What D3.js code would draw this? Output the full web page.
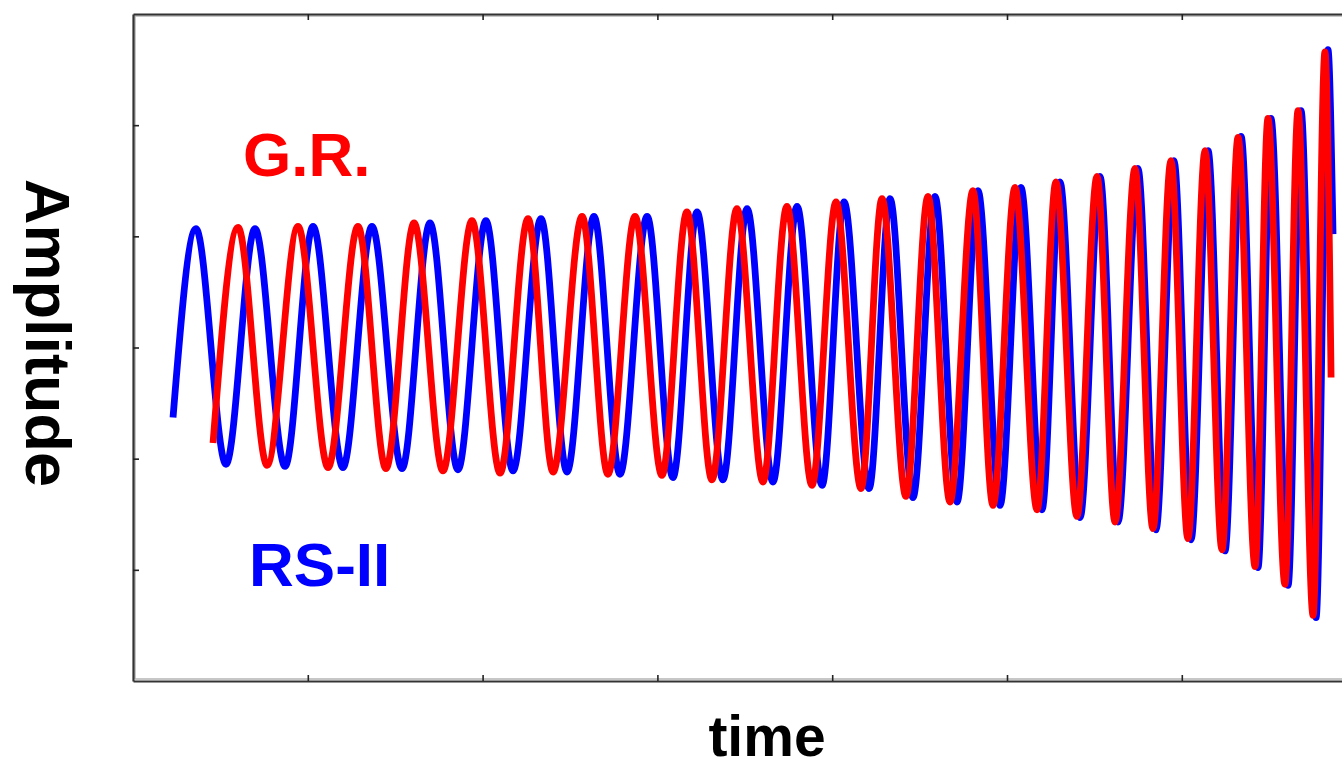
<!DOCTYPE html>
<html>
<head>
<meta charset="utf-8">
<script src="https://cdn.jsdelivr.net/npm/d3@7"></script>
<style>
  html, body { margin: 0; padding: 0; background: #fff; }
  svg { display: block; }
  text { font-family: "Liberation Sans", Arial, Helvetica, sans-serif; font-weight: bold; }
</style>
</head>
<body>
<svg id="chart" width="1342" height="769"></svg>
<script>
// Tick positions (no numeric labels are printed)
const timeTicks = [1, 2, 3, 4, 5, 6];
const ampTicks = [-2, -1, 0, 1, 2];

// RS-II waveform: start, alternating maxima/minima, end
const rsTime = [0.229,
  0.360, 0.532, 0.698, 0.870, 1.030, 1.201, 1.367, 1.539, 1.699, 1.859,
  2.019, 2.174, 2.334, 2.483, 2.637, 2.786, 2.941, 3.089, 3.227, 3.375,
  3.513, 3.661, 3.799, 3.942, 4.068, 4.211, 4.331, 4.462, 4.588, 4.714,
  4.834, 4.960, 5.080, 5.200, 5.303, 5.418, 5.532, 5.635, 5.749, 5.852,
  5.955, 6.053, 6.150, 6.247, 6.339, 6.436, 6.510, 6.608, 6.682, 6.768,
  6.836, 6.865];
const rsAmp = [-0.63,
  1.07, -1.05, 1.07, -1.07, 1.09, -1.08, 1.09, -1.09, 1.12, -1.10,
  1.14, -1.11, 1.16, -1.12, 1.18, -1.14, 1.18, -1.17, 1.22, -1.19,
  1.25, -1.21, 1.27, -1.24, 1.31, -1.27, 1.34, -1.35, 1.36, -1.39,
  1.41, -1.42, 1.44, -1.46, 1.49, -1.53, 1.54, -1.57, 1.61, -1.64,
  1.68, -1.73, 1.77, -1.83, 1.90, -1.98, 2.06, -2.14, 2.13, -2.43,
  2.68, 1.02];

// G.R. waveform: start, alternating maxima/minima, end
const grTime = [0.458,
  0.601, 0.767, 0.944, 1.116, 1.287, 1.447, 1.608, 1.773, 1.939, 2.100,
  2.260, 2.403, 2.569, 2.717, 2.872, 3.026, 3.169, 3.312, 3.455, 3.604,
  3.741, 3.884, 4.022, 4.165, 4.285, 4.422, 4.548, 4.674, 4.805, 4.920,
  5.046, 5.172, 5.280, 5.400, 5.515, 5.618, 5.732, 5.835, 5.938, 6.035,
  6.133, 6.230, 6.322, 6.419, 6.493, 6.590, 6.665, 6.751, 6.819, 6.854];
const grAmp = [-0.86,
  1.08, -1.06, 1.09, -1.08, 1.09, -1.09, 1.12, -1.11, 1.14, -1.13,
  1.16, -1.12, 1.18, -1.14, 1.18, -1.15, 1.22, -1.19, 1.25, -1.21,
  1.27, -1.24, 1.31, -1.27, 1.34, -1.34, 1.36, -1.39, 1.41, -1.42,
  1.44, -1.46, 1.49, -1.52, 1.54, -1.57, 1.61, -1.63, 1.68, -1.72,
  1.77, -1.82, 1.89, -1.97, 2.06, -2.13, 2.13, -2.41, 2.66, -0.27];

const svg = d3.select("#chart");

const x = d3.scaleLinear().domain([0, 7]).range([133, 1356.6]);
const y = d3.scaleLinear().domain([-3, 3]).range([681, 14]);

const frame = svg.append("g").attr("class", "frame");

// Soft inner shadow of the frame
frame.append("path")
  .attr("d", `M${x(0) + 2},${y(-3) - 2}V${y(3) + 2}H1342`)
  .attr("fill", "none").attr("stroke", "#b5b5b5").attr("stroke-width", 1.5);
frame.append("path")
  .attr("d", `M${x(0) + 2},${y(-3) - 2}H1342`)
  .attr("fill", "none").attr("stroke", "#b5b5b5").attr("stroke-width", 1.5);

// Axes: ticks point inward, no labels
const axisStyle = g => {
  g.select(".domain").attr("stroke", "#333").attr("stroke-width", 2.2);
  g.selectAll(".tick line").attr("stroke", "#222").attr("stroke-width", 1.6);
  g.selectAll(".tick text").remove();
};

frame.append("g")
  .attr("transform", `translate(0,${y(-3)})`)
  .call(d3.axisBottom(x).tickValues(timeTicks).tickSizeInner(-6).tickSizeOuter(0).tickFormat(""))
  .call(axisStyle);

frame.append("g")
  .attr("transform", `translate(0,${y(3)})`)
  .call(d3.axisTop(x).tickValues(timeTicks).tickSizeInner(-6).tickSizeOuter(0).tickFormat(""))
  .call(axisStyle);

frame.append("g")
  .attr("transform", `translate(${x(0)},0)`)
  .call(d3.axisLeft(y).tickValues(ampTicks).tickSizeInner(-6).tickSizeOuter(0).tickFormat(""))
  .call(axisStyle);

// Waveforms
const line = d3.line()
  .x(d => x(d[0]))
  .y(d => y(d[1]))
  .curve(d3.curveMonotoneX);

const rsPoints = d3.zip(rsTime, rsAmp);
const grPoints = d3.zip(grTime, grAmp);

svg.append("path")
  .datum(rsPoints)
  .attr("d", line)
  .attr("fill", "none")
  .attr("stroke", "#0000ff")
  .attr("stroke-width", 6.8)
  .attr("stroke-linejoin", "round");

svg.append("path")
  .datum(grPoints)
  .attr("d", line)
  .attr("fill", "none")
  .attr("stroke", "#ff0000")
  .attr("stroke-width", 6.8)
  .attr("stroke-linejoin", "round");

// Series labels
svg.append("text")
  .attr("x", 243).attr("y", 176)
  .attr("fill", "#ff0000")
  .attr("font-size", 62)
  .text("G.R.");

svg.append("text")
  .attr("x", 249).attr("y", 586)
  .attr("fill", "#0000ff")
  .attr("font-size", 62)
  .text("RS-II");

// Axis titles
svg.append("text")
  .attr("x", 767).attr("y", 756)
  .attr("text-anchor", "middle")
  .attr("fill", "#000")
  .attr("font-size", 57)
  .text("time");

svg.append("text")
  .attr("transform", "translate(26,333) rotate(90)")
  .attr("text-anchor", "middle")
  .attr("fill", "#000")
  .attr("font-size", 63)
  .text("Amplitude");
</script>
</body>
</html>
